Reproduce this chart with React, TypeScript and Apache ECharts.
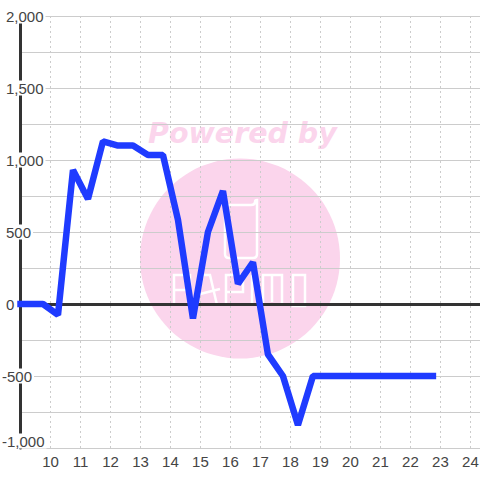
import React, { useEffect, useRef } from "react";
import * as echarts from "echarts";

const hours = [9, 9.25, 9.75, 10.25, 10.75, 11.25, 11.75, 12.25, 12.75, 13.25, 13.75, 14.25, 14.75, 15.25, 15.75, 16.25, 16.75, 17.25, 17.75, 18.25, 18.75, 19.25, 19.75, 20.25, 20.75, 21.25, 21.75, 22.25, 22.75];
const values = [0, 0, 0, -75, 930, 730, 1130, 1100, 1100, 1035, 1035, 585, -100, 500, 785, 140, 290, -350, -500, -840, -500, -500, -500, -500, -500, -500, -500, -500, -500];
const PINK = "#fbd5ec";

const logoPath = "M230 205 L251 205 Q255 205 255 202 Q255 200 257 200 L257 254 Q257 258 253 258 L229 258 Q225 258 225 254 L225 207 Q225 205 230 205 Z M174 305 L174 275 L190 275 L190 305 M174 290 L190 290 M196 305 L203 275 L210 275 L217 305 M200 294 L220 289 M226 305 L226 275 L243 275 L243 292 L226 292 M252 305 L252 275 M263 305 L263 275 L272 275 L272 302 M272 275 L282 275 L282 305 M293 275 L305 275 L305 306 L293 306 Z";
echarts.graphic.registerShape("papimoLogo", echarts.graphic.extendPath(logoPath, {}));

const fmt = (v: number) => Math.abs(v).toLocaleString("en-US");

export default function App() {
  const ref = useRef<HTMLDivElement>(null);
  useEffect(() => {
    const chart = echarts.init(ref.current!, undefined, { renderer: "svg" });
    const labelColor = "#444";
    const font = "Liberation Sans";
    chart.setOption({
      animation: false,
      grid: { left: 20.5, right: 0, top: 16, bottom: 32, containLabel: false, outerBoundsMode: "none" },
      graphic: [
        { type: "circle", z: -1, shape: { cx: 240, cy: 258.5, r: 100 }, style: { fill: PINK } },
        { type: "text", z: -1, x: 148, y: 119, style: { text: "Powered by", fill: PINK, font: "italic bold 28.5px 'DejaVu Sans'" } },
        { type: "papimoLogo", z: -1, x: 0, y: 0, style: { fill: "none", stroke: "#fff", lineWidth: 2.5 } },
      ],
      xAxis: [
        {
          type: "value", min: 9, max: 24.32, interval: 1, position: "bottom",
          axisLine: { show: false, onZero: false }, axisTick: { show: false },
          axisLabel: { color: labelColor, fontSize: 15, fontFamily: font, margin: 6, showMaxLabel: false, showMinLabel: false },
          splitLine: { show: true, lineStyle: { color: "#ccc", width: 1, type: [2, 3] } },
        },
        {
          type: "value", min: 9, max: 24.32, interval: 1,
          axisLine: { show: true, onZero: true, lineStyle: { color: "#333", width: 3 } },
          axisTick: { show: false }, axisLabel: { show: false }, splitLine: { show: false },
        },
      ],
      yAxis: {
        type: "value", min: -1000, max: 2000, interval: 500,
        axisLine: { show: true, onZero: false, lineStyle: { color: "#333", width: 3 } },
        axisTick: { show: false },
        axisLabel: {
          align: "left", margin: 20.5, verticalAlignMinLabel: "bottom",
          color: labelColor, fontSize: 15, fontFamily: font,
          formatter: (v: number) => v < 0 ? `{neg|-${fmt(v)}}` : `{pos|${fmt(v)}}`,
          rich: {
            pos: { backgroundColor: "#fff", color: labelColor, fontSize: 15, fontFamily: font, padding: [0, 2, 0, 6], lineHeight: 14 },
            neg: { backgroundColor: "#fff", color: labelColor, fontSize: 15, fontFamily: font, padding: [0, 2, 0, 2], lineHeight: 14 },
          },
        },
        splitLine: { show: true, lineStyle: { color: "#ccc", width: 1 } },
        minorTick: { show: false, splitNumber: 2 },
        minorSplitLine: { show: true, lineStyle: { color: "#ccc", width: 1 } },
      },
      series: [{
        type: "line", xAxisIndex: 0, data: hours.map((h, i) => [h, values[i]]),
        showSymbol: false, symbol: "none", clip: false,
        lineStyle: { color: "#1f3bff", width: 6.5, cap: "square", join: "bevel" },
      }],
    });
    return () => chart.dispose();
  }, []);
  return <div ref={ref} style={{ position: "fixed", left: 0, top: 0, width: 480, height: 480, background: "#fff" }} />;
}
